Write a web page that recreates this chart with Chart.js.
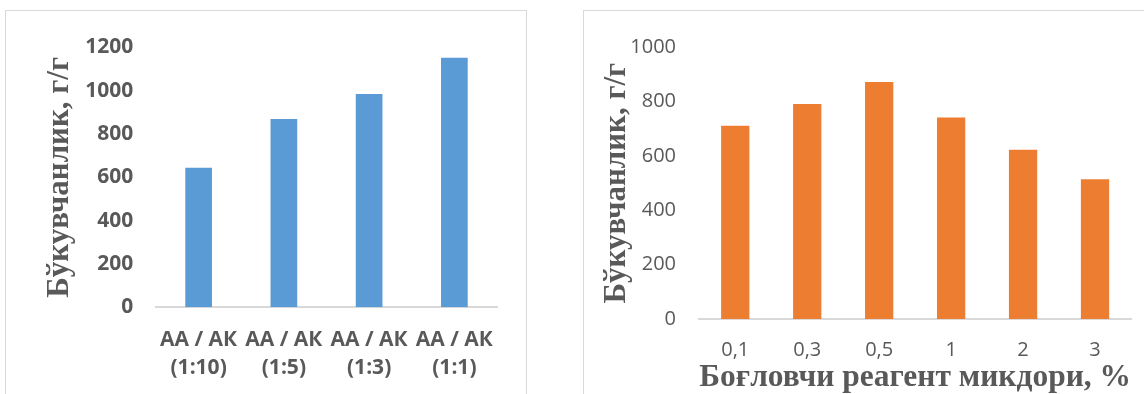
<!DOCTYPE html>
<html>
<head>
<meta charset="utf-8">
<script src="https://cdn.jsdelivr.net/npm/chart.js@4"></script>
<style>
  html, body { margin: 0; padding: 0; background: #fff; }
  body { position: relative; width: 1144px; height: 394px; overflow: hidden; }
  .frame { position: absolute; border: 1.5px solid #d9d9d9; box-sizing: border-box; }
  .box { position: absolute; }
</style>
</head>
<body>
<div class="frame" style="left:5px;top:10px;width:522px;height:420px"></div>
<div class="frame" style="left:582.5px;top:10px;width:620px;height:420px"></div>
<div class="box" style="left:8px;top:12px;width:516px;height:400px"><canvas id="ratioChart"></canvas></div>
<div class="box" style="left:585px;top:12px;width:600px;height:400px"><canvas id="reagentChart"></canvas></div>

<script>
// Swelling capacity vs. monomer ratio (АА / АК)
const ratioLabels = [['АА / АК', '(1:10)'], ['АА / АК', '(1:5)'], ['АА / АК', '(1:3)'], ['АА / АК', '(1:1)']];
const ratioValues = [644, 869, 984, 1152];

// Swelling capacity vs. cross-linking agent amount, %
const doseLabels = ['0,1', '0,3', '0,5', '1', '2', '3'];
const doseValues = [711, 791, 872, 742, 623, 514];

const yTitle = 'Бўкувчанлик, г/г';
const xTitle = 'Боғловчи реагент микдори, %';

const textGray = '#595959';
const axisGray = '#d9d9d9';
const plainNumber = v => String(v);

new Chart(document.getElementById('ratioChart'), {
  type: 'bar',
  data: {
    labels: ratioLabels,
    datasets: [{ data: ratioValues, backgroundColor: '#5b9bd5', barPercentage: 0.313, categoryPercentage: 1 }]
  },
  options: {
    responsive: true,
    maintainAspectRatio: false,
    animation: false,
    layout: { padding: { top: 28, right: 27, left: 0, bottom: 0 } },
    plugins: { legend: { display: false }, tooltip: { enabled: false } },
    scales: {
      x: {
        grid: { display: false, drawTicks: false },
        border: { display: true, color: axisGray, width: 2 },
        ticks: {
          color: textGray,
          font: { family: 'Open Sans', size: 21, weight: 'bold', lineHeight: 1.35 },
          padding: 18.5, maxRotation: 0, autoSkip: false
        },
        afterFit(s) { s.height = 104.7; }
      },
      y: {
        min: 0, max: 1200,
        grid: { display: false, drawTicks: false },
        border: { display: false },
        ticks: {
          stepSize: 200, color: textGray, callback: plainNumber,
          font: { family: 'Open Sans', size: 21, weight: 'bold' },
          padding: 22.7
        },
        title: {
          display: true, text: yTitle, color: textGray,
          font: { family: 'Liberation Serif', size: 31, weight: 'bold' },
          padding: { top: 33.4, bottom: 0 }
        },
        afterFit(s) { s.width = 148; }
      }
    }
  }
});

new Chart(document.getElementById('reagentChart'), {
  type: 'bar',
  data: {
    labels: doseLabels,
    datasets: [{ data: doseValues, backgroundColor: '#ed7d31', barPercentage: 0.393, categoryPercentage: 1 }]
  },
  options: {
    responsive: true,
    maintainAspectRatio: false,
    animation: false,
    layout: { padding: { top: 20.3, right: 54, left: 0, bottom: 0 } },
    plugins: { legend: { display: false }, tooltip: { enabled: false } },
    scales: {
      x: {
        grid: { display: false, drawTicks: false },
        border: { display: true, color: axisGray, width: 2 },
        ticks: {
          color: textGray,
          font: { family: 'Open Sans', size: 20, lineHeight: 1.2 },
          padding: 19, maxRotation: 0, autoSkip: false
        },
        title: {
          display: true, text: xTitle, color: textGray,
          font: { family: 'Liberation Serif', size: 32, weight: 'bold' },
          padding: { top: 0, bottom: 15 }
        },
        afterFit(s) { s.height = 93; }
      },
      y: {
        min: 0, max: 1000,
        grid: { display: false, drawTicks: false },
        border: { display: false },
        ticks: {
          stepSize: 200, color: textGray, callback: plainNumber,
          font: { family: 'Open Sans', size: 20 },
          padding: 23.3
        },
        title: {
          display: true, text: yTitle, color: textGray,
          font: { family: 'Liberation Serif', size: 31, weight: 'bold' },
          padding: { top: 13, bottom: 0 }
        },
        afterFit(s) { s.width = 114.3; }
      }
    }
  }
});
</script>
</body>
</html>
